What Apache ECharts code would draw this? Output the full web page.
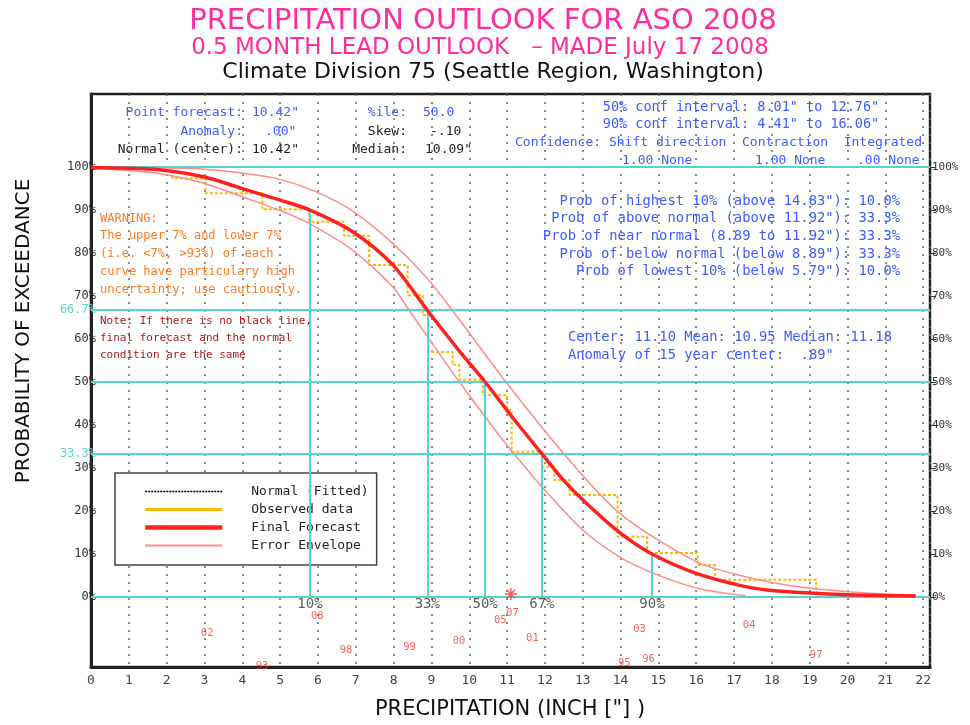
<!DOCTYPE html>
<html><head><meta charset="utf-8">
<script src="https://cdn.jsdelivr.net/npm/echarts@6/dist/echarts.min.js"></script>
<style>html,body{margin:0;padding:0;background:#fff}#c{width:970px;height:725px}</style>
</head><body><div id="c"></div>
<script>
// ---------------- data ----------------
const yLabelVals = [0,10,20,30,33.3,40,50,60,66.7,70,80,90,100];
const yRightVals = [0,10,20,30,40,50,60,70,80,90,100];
const cyanLevels = [100, 66.7, 50, 33.3, 0];
const pctX = [5.79, 8.89, 10.42, 11.92, 14.83];
const pctP = [90, 66.7, 50, 33.3, 10];
const pctNames = ['10%','33%','50%','67%','90%'];

const forecastX = [0,1,1.8,3,4,5,5.79,6.91,7.97,8.89,9.74,10.42,11.14,11.92,12.38,12.95,13.97,14.83,16,17.3,18,19,20,21,21.8];
const forecastP = [99.9,99.7,99.4,97.7,95,92.3,90,85,77.3,66.7,57.2,50,41.8,33.3,28.3,23,15,10,5.5,2.4,1.5,0.9,0.5,0.3,0.2];

const upperX = [0,1,2,3,4,4.97,5.94,6.91,7.97,8.85,9.55,10.97,12.5,13.97,16,17.3,18.5,19.5,20.5,21.8];
const upperP = [100,99.9,99.8,99.5,98.6,97.2,94.3,89.8,82.3,74.5,66.7,50,33.3,19.5,8.2,4.7,2.6,1.6,0.9,0.4];

const lowerX = [0,1,1.8,3,4,4.97,5.74,6.91,7.97,8.41,9.74,11.18,12.9,13.97,14.84,16,17.3];
const lowerP = [99.7,99.2,98.5,96.2,93.1,90,87,80.7,72.2,66.7,50,33.3,16.4,9.3,5.6,2.1,0.3];

const obsX = [0,2.15,3.03,4.53,5.77,6.69,7.35,8.37,8.77,8.92,9.56,9.74,10.36,11.0,11.12,11.92,12.25,12.65,13.92,14.7,16.04,16.5,19.17];
const obsP = [100,97.4,93.9,90.2,87.3,84,77.2,70.2,65.6,57,54,50.5,47,43.5,33.8,30.3,27.2,23.7,14,10.2,7.4,4,0.5];

const years = ['08','02','93','98','99','00','05','07','01','94','03','95','96','04','97'];
const yearX = [5.98,3.07,4.52,6.74,8.42,9.73,10.82,11.14,11.67,11.85,14.5,14.1,14.74,17.4,19.17];
const yearY = [-4.6,-8.4,-16.2,-12.5,-11.6,-10.4,-5.5,-3.7,-9.6,-16.5,-7.5,-15.4,-14.5,-6.5,-13.5];

const centerPt = [11.10, 0.7];

// ---------------- styles ----------------
const MONO = '"DejaVu Sans Mono", monospace';
const SANS = '"DejaVu Sans", sans-serif';
const BLUE = '#3d5cff';
const CYAN = '#55d4d4';
const MAGENTA = '#ff2ca0';
const ORANGE = '#ff7a1e';
const DKRED = '#b01818';

const pair = (xs, ys) => xs.map((x, i) => [x, ys[i]]);

function T(text, x, y, size, color, align, family, extra) {
  return Object.assign({
    type: 'text', x: x, y: y, silent: true, z: 100,
    style: { text: text, fill: color, fontSize: size, fontFamily: family || MONO,
      align: align || 'left', textAlign: align || 'left',
      verticalAlign: 'middle', textVerticalAlign: 'middle' }
  }, extra || {});
}

const graphics = [
  T('PRECIPITATION OUTLOOK FOR ASO 2008', 483, 21, 29, MAGENTA, 'center', SANS),
  T('0.5 MONTH LEAD OUTLOOK   \u2013 MADE July 17 2008', 480, 48, 23, MAGENTA, 'center', SANS),
  T('Climate Division 75 (Seattle Region, Washington)', 493, 72, 22, '#111', 'center', SANS),
  T('PROBABILITY OF EXCEEDANCE', 24, 331, 20, '#111', 'center', SANS, {rotation: Math.PI / 2}),
  T('PRECIPITATION (INCH ["] )', 510, 710, 21, '#111', 'center', SANS),

  T('Point forecast:', 243, 113, 13, BLUE, 'right'),
  T('10.42"', 252, 113, 13, BLUE, 'left'),
  T('Anomaly:', 243, 132, 13, BLUE, 'right'),
  T('.00"', 265, 132, 13, BLUE, 'left'),
  T('Normal (center):', 243, 150, 13, '#222', 'right'),
  T('10.42"', 252, 150, 13, '#222', 'left'),
  T('%ile:', 407, 113, 13, BLUE, 'right'),
  T('50.0', 423, 113, 13, BLUE, 'left'),
  T('Skew:', 407, 132, 13, '#222', 'right'),
  T('-.10', 430, 132, 13, '#222', 'left'),
  T('Median:', 407, 150, 13, '#222', 'right'),
  T('10.09"', 425, 150, 13, '#222', 'left'),

  T('50% conf interval: 8.01" to 12.76"', 741, 107, 13.5, BLUE, 'center'),
  T('90% conf interval: 4.41" to 16.06"', 741, 124, 13.5, BLUE, 'center'),
  T('Confidence: Shift direction  Contraction  Integrated', 515, 143, 13, BLUE, 'left'),
  T('1.00 None', 622, 161, 13, BLUE, 'left'),
  T('1.00 None', 755, 161, 13, BLUE, 'left'),
  T('.00 None', 857, 161, 13, BLUE, 'left'),

  T('Prob of highest 10% (above 14.83"): 10.0%', 900, 201, 13.8, BLUE, 'right'),
  T('Prob of above normal (above 11.92"): 33.3%', 900, 218, 13.8, BLUE, 'right'),
  T('Prob of near normal (8.89 to 11.92"): 33.3%', 900, 236, 13.8, BLUE, 'right'),
  T('Prob of below normal (below 8.89"): 33.3%', 900, 254, 13.8, BLUE, 'right'),
  T('Prob of lowest 10% (below 5.79"): 10.0%', 900, 271, 13.8, BLUE, 'right'),
  T('Center: 11.10 Mean: 10.95 Median: 11.18', 568, 337, 13.8, BLUE, 'left'),
  T('Anomaly of 15 year center:  .89"', 568, 355, 13.8, BLUE, 'left'),

  T('WARNING:', 100, 219, 12, ORANGE, 'left'),
  T('The upper 7% and lower 7%', 100, 236, 12, ORANGE, 'left'),
  T('(i.e. <7%, >93%) of each', 100, 254, 12, ORANGE, 'left'),
  T('curve have particulary high', 100, 272, 12, ORANGE, 'left'),
  T('uncertainty; use cautiously.', 100, 290, 12, ORANGE, 'left'),
  T('Note: If there is no black line,', 100, 321, 11, DKRED, 'left'),
  T('final forecast and the normal', 100, 338, 11, DKRED, 'left'),
  T('condition are the same', 100, 355, 11, DKRED, 'left')
];

const asterisk = 'path://M-0.6,-5L0.6,-5L0.6,5L-0.6,5Z M-5,-0.6L5,-0.6L5,0.6L-5,0.6Z M-3.1,-3.9L3.9,3.1L3.1,3.9L-3.9,-3.1Z M3.9,-3.1L-3.1,3.9L-3.9,3.1L3.1,-3.9Z';

const chart = echarts.init(document.getElementById('c'), null, {renderer: 'canvas'});
chart.setOption({
  animation: false,
  backgroundColor: '#fff',
  textStyle: {fontFamily: MONO},
  grid: {left: 91, right: 40, top: 94, bottom: 58, show: true, borderColor: '#222', borderWidth: 2.5,
    containLabel: false, outerBoundsMode: 'none'},
  legend: {
    orient: 'vertical', left: 115, top: 473, itemWidth: 77, itemHeight: 14, itemGap: 5,
    padding: [12, 8, 13, 28], borderColor: '#444', borderWidth: 1.5, backgroundColor: '#fff',
    selectedMode: false,
    itemStyle: {opacity: 0},
    textStyle: {fontFamily: MONO, fontSize: 13, color: '#222', padding: [0, 0, 0, 24]},
    data: [
      {name: 'Normal (Fitted)', lineStyle: {width: 1.5}},
      {name: 'Observed data', lineStyle: {type: 'solid', width: 3}},
      {name: 'Final Forecast', lineStyle: {width: 4.5}},
      {name: 'Error Envelope', lineStyle: {width: 2}}
    ]
  },
  xAxis: {
    type: 'value', min: 0, max: 22.18, interval: 1,
    axisLine: {show: true, onZero: false, lineStyle: {color: '#222', width: 3}},
    axisTick: {show: false},
    axisLabel: {margin: 7, fontSize: 13, color: '#444', fontFamily: MONO, showMaxLabel: false},
    splitLine: {show: true, lineStyle: {color: '#666', width: 1.5, type: [2, 6]}}
  },
  yAxis: [{
    type: 'value', min: -16.3, max: 117, position: 'left',
    axisLine: {show: true, onZero: false, lineStyle: {color: '#222', width: 3}},
    axisTick: {show: false},
    splitLine: {show: false},
    axisLabel: {
      customValues: yLabelVals, margin: -5, fontSize: 12, color: '#333', fontFamily: MONO,
      formatter: v => (v === 66.7 || v === 33.3) ? '{c|' + v + '%}' : v + '%',
      rich: {c: {color: CYAN, fontSize: 12, fontFamily: MONO}}
    }
  }, {
    type: 'value', min: -16.3, max: 117, position: 'right',
    axisLine: {show: false, onZero: false},
    axisTick: {show: true, customValues: yRightVals, length: 6, lineStyle: {color: '#333', width: 1}},
    splitLine: {show: false},
    axisLabel: {customValues: yRightVals, margin: 2, fontSize: 11, color: '#333', fontFamily: MONO,
      formatter: v => v + '%'}
  }],
  graphic: graphics,
  series: [
    {
      name: 'guides', type: 'line', data: [], silent: true, z: 1,
      markLine: {
        silent: true, symbol: ['none', 'none'], animation: false, label: {show: false},
        lineStyle: {color: CYAN, width: 2, type: 'solid'},
        emphasis: {disabled: true},
        data: cyanLevels.map(v => ({yAxis: v})).concat(
          pctX.map((x, i) => [{coord: [x, 0]}, {coord: [x, pctP[i]]}]))
      }
    },
    {name: 'Normal (Fitted)', type: 'line', data: [], symbol: 'none',
      lineStyle: {color: '#000', width: 1.5, type: [2, 1]}, itemStyle: {color: '#000'}},
    {name: 'Observed data', type: 'line', step: 'end', data: pair(obsX, obsP), symbol: 'none', z: 3,
      lineStyle: {color: '#ffb800', width: 2, type: [3, 2]}, itemStyle: {color: '#ffb800'}},
    {name: 'Error Envelope', type: 'line', smooth: 0.3, data: pair(upperX, upperP), symbol: 'none', z: 4,
      lineStyle: {color: '#ff8c8c', width: 1.5}, itemStyle: {color: '#ff8c8c'}},
    {name: 'Error Envelope', type: 'line', smooth: 0.3, data: pair(lowerX, lowerP), symbol: 'none', z: 4,
      lineStyle: {color: '#ff8c8c', width: 1.5}, itemStyle: {color: '#ff8c8c'}},
    {name: 'Final Forecast', type: 'line', smooth: 0.3, data: pair(forecastX, forecastP), symbol: 'none', z: 5,
      lineStyle: {color: '#ff2020', width: 3.5}, itemStyle: {color: '#ff2020'}},
    {name: 'pct', type: 'scatter', silent: true, symbolSize: 0, z: 6,
      data: pctX.map((x, i) => ({value: [x, 0], name: pctNames[i]})),
      label: {show: true, position: 'bottom', distance: 0, formatter: p => p.name,
        fontFamily: MONO, fontSize: 14, color: '#333'}},
    {name: 'years', type: 'scatter', silent: true, symbolSize: 0, z: 6,
      data: years.map((y, i) => ({value: [yearX[i], yearY[i]], name: y})),
      label: {show: true, position: 'inside', formatter: p => p.name, color: '#ff3535',
        fontSize: 10.5, fontFamily: MONO}},
    {name: 'center', type: 'scatter', silent: true, z: 7, data: [centerPt], symbol: asterisk,
      symbolSize: 12, itemStyle: {color: '#ff3030'}}
  ]
});
</script></body></html>
